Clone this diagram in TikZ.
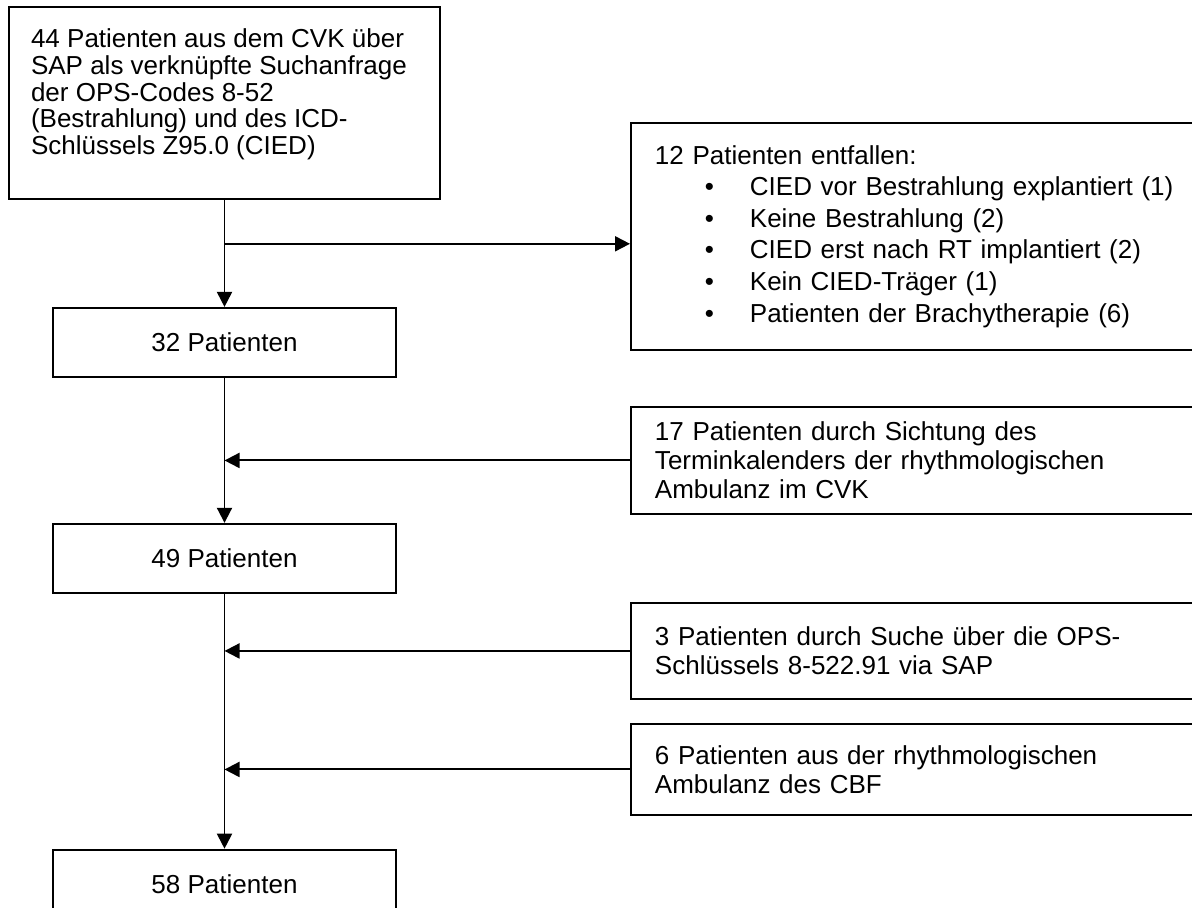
\documentclass[tikz,border=0pt]{standalone}
\usepackage{fontspec}
\setmainfont{Liberation Sans}
\usetikzlibrary{arrows.meta,positioning}

\begin{document}
\begin{tikzpicture}[
  x=0.02cm, y=-0.02cm,
  font=\fontsize{14.8}{16.4}\selectfont,
  srcbox/.style={draw, line width=1.1pt, inner sep=0.44cm},
  box/.style={draw, line width=1.1pt, minimum width=6.86cm, minimum height=1.38cm, inner sep=0pt},
  side/.style={draw, line width=1.1pt, anchor=north west, minimum width=12cm, text width=11.04cm, inner xsep=0.48cm, align=left},
  arrow/.style={-{Triangle[length=0.3cm, width=0.3cm]}, line width=1.1pt},
]
\useasboundingbox (0,0) rectangle (1192,908);
\clip (0,0) rectangle (1192,908);

% main column
\node[srcbox] (src) at (224.5,103) {\parbox[c][2.96cm][t]{7.74cm}{\raggedright\fontsize{14.8}{15.2}\selectfont
  44 Patienten aus dem CVK über\\SAP als verknüpfte Suchanfrage\\der OPS-Codes 8-52\\(Bestrahlung) und des ICD-\\Schlüssels Z95.0 (CIED)}};
\node[box, below=2.14cm of src] (p32) {32 Patienten};
\node[box, below=2.9cm of p32] (p49) {49 Patienten};
\node[box, below=5.1cm of p49] (p58) {58 Patienten};

% side boxes
\node[side, minimum height=4.54cm, font=\fontsize{14.8}{18}\selectfont] (excl) at (630,122) {12 Patienten entfallen:\\
  \hspace*{1cm}\makebox[0.9cm][l]{•}CIED vor Bestrahlung explantiert (1)\\
  \hspace*{1cm}\makebox[0.9cm][l]{•}Keine Bestrahlung (2)\\
  \hspace*{1cm}\makebox[0.9cm][l]{•}CIED erst nach RT implantiert (2)\\
  \hspace*{1cm}\makebox[0.9cm][l]{•}Kein CIED-Träger (1)\\
  \hspace*{1cm}\makebox[0.9cm][l]{•}Patienten der Brachytherapie (6)};
\node[side, minimum height=2.14cm] (add17) at (630,406) {17 Patienten durch Sichtung des\\Terminkalenders der rhythmologischen\\Ambulanz im CVK};
\node[side, minimum height=1.92cm] (add3) at (630,602) {3 Patienten durch Suche über die OPS-\\Schlüssels 8-522.91 via SAP};
\node[side, minimum height=1.82cm] (add6) at (630,723) {6 Patienten aus der rhythmologischen\\Ambulanz des CBF};

% connectors
\draw[arrow] (src) -- (p32);
\path (src.south) -- coordinate[pos=0.41] (split) (p32.north);
\draw[arrow] (split) -- (split -| excl.west);
\draw[arrow] (p32) -- (p49);
\draw[arrow] (add17.west) -- (add17.west -| p32.south);
\draw[arrow] (p49) -- (p58);
\draw[arrow] (add3.west) -- (add3.west -| p49.south);
\draw[arrow] (add6.west) -- (add6.west -| p49.south);

\end{tikzpicture}
\end{document}
